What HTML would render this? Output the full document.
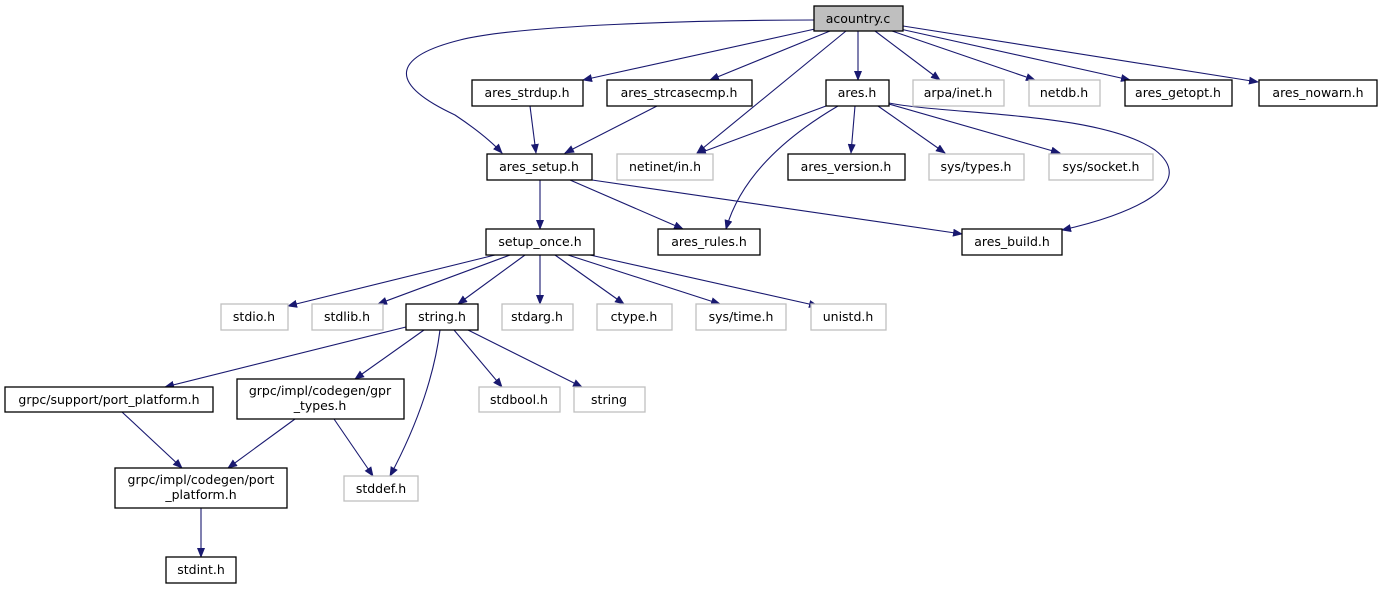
<!DOCTYPE html>
<html><head><meta charset="utf-8"><style>
html,body{margin:0;padding:0;background:#fff;}
svg text{font-family:"DejaVu Sans","Liberation Sans",sans-serif;font-size:12.5px;text-anchor:middle;fill:#000;}
.b{fill:#fff;stroke:#000;stroke-width:1.3}
.g{fill:#fff;stroke:#bfbfbf;stroke-width:1.3}
.e{fill:none;stroke:#191970;stroke-width:1.1;marker-end:url(#a)}
</style></head><body>
<svg width="1383" height="589" viewBox="0 0 1383 589" xmlns="http://www.w3.org/2000/svg">
<defs><marker id="a" markerWidth="10" markerHeight="8" refX="9" refY="4" orient="auto" markerUnits="userSpaceOnUse"><path d="M0,0 L10,4 L0,8 z" fill="#191970"/></marker></defs>
<!-- edges -->
<path class="e" d="M814,20 C700,20 520,25 460,40 C400,55 380,80 455,115 C470,125 490,140 502,153"/>
<path class="e" d="M815,29 L583,80"/>
<path class="e" d="M830,31 L710,80"/>
<path class="e" d="M846,31 L697,153"/>
<path class="e" d="M858,31 L858,80"/>
<path class="e" d="M875,31 L940,80"/>
<path class="e" d="M892,31 L1035,80"/>
<path class="e" d="M900,29 L1130,80"/>
<path class="e" d="M903,26 L1258,82"/>
<path class="e" d="M530,106 L536,153"/>
<path class="e" d="M657,106 L565,153"/>
<path class="e" d="M826,106 L697,154"/>
<path class="e" d="M838,106 C780,140 740,180 726,229"/>
<path class="e" d="M855,106 L851,153"/>
<path class="e" d="M878,106 L945,153"/>
<path class="e" d="M889,104 L1060,153"/>
<path class="e" d="M889,103 C950,115 1100,112 1155,150 C1200,185 1130,215 1062,230"/>
<path class="e" d="M540,180 L540,229"/>
<path class="e" d="M570,180 L683,229"/>
<path class="e" d="M592,180 L962,234"/>
<path class="e" d="M495,255 L288,306"/>
<path class="e" d="M510,255 L378,304"/>
<path class="e" d="M525,255 L458,304"/>
<path class="e" d="M540,255 L540,304"/>
<path class="e" d="M555,255 L624,304"/>
<path class="e" d="M568,255 L720,304"/>
<path class="e" d="M590,255 L818,306"/>
<path class="e" d="M406,327 L165,387"/>
<path class="e" d="M424,330 L355,379"/>
<path class="e" d="M440,330 C435,370 420,420 390,476"/>
<path class="e" d="M454,330 L502,387"/>
<path class="e" d="M468,330 L582,387"/>
<path class="e" d="M122,412 L182,468"/>
<path class="e" d="M295,419 L228,468"/>
<path class="e" d="M334,419 L373,476"/>
<path class="e" d="M201,508 L201,557"/>
<!-- nodes -->
<rect x="814" y="6" width="89" height="25" fill="#bfbfbf" stroke="#000" stroke-width="1.3"/><text x="858" y="23">acountry.c</text>
<rect class="b" x="472" y="80" width="111" height="26"/><text x="527" y="97">ares_strdup.h</text>
<rect class="b" x="607" y="80" width="145" height="26"/><text x="679" y="97">ares_strcasecmp.h</text>
<rect class="b" x="826" y="80" width="63" height="26"/><text x="857" y="97">ares.h</text>
<rect class="g" x="913" y="80" width="91" height="26"/><text x="958" y="97">arpa/inet.h</text>
<rect class="g" x="1029" y="80" width="71" height="26"/><text x="1064" y="97">netdb.h</text>
<rect class="b" x="1125" y="80" width="107" height="26"/><text x="1178" y="97">ares_getopt.h</text>
<rect class="b" x="1259" y="80" width="118" height="26"/><text x="1318" y="97">ares_nowarn.h</text>
<rect class="b" x="487" y="154" width="105" height="26"/><text x="539" y="171">ares_setup.h</text>
<rect class="g" x="617" y="154" width="96" height="26"/><text x="665" y="171">netinet/in.h</text>
<rect class="b" x="788" y="154" width="117" height="26"/><text x="846" y="171">ares_version.h</text>
<rect class="g" x="929" y="154" width="95" height="26"/><text x="976" y="171">sys/types.h</text>
<rect class="g" x="1049" y="154" width="104" height="26"/><text x="1101" y="171">sys/socket.h</text>
<rect class="b" x="486" y="229" width="108" height="26"/><text x="540" y="246">setup_once.h</text>
<rect class="b" x="658" y="229" width="102" height="26"/><text x="709" y="246">ares_rules.h</text>
<rect class="b" x="962" y="229" width="100" height="26"/><text x="1012" y="246">ares_build.h</text>
<rect class="g" x="221" y="304" width="67" height="26"/><text x="254" y="321">stdio.h</text>
<rect class="g" x="312" y="304" width="71" height="26"/><text x="347" y="321">stdlib.h</text>
<rect class="b" x="406" y="304" width="72" height="26"/><text x="442" y="321">string.h</text>
<rect class="g" x="502" y="304" width="71" height="26"/><text x="537" y="321">stdarg.h</text>
<rect class="g" x="597" y="304" width="75" height="26"/><text x="634" y="321">ctype.h</text>
<rect class="g" x="696" y="304" width="90" height="26"/><text x="741" y="321">sys/time.h</text>
<rect class="g" x="811" y="304" width="75" height="26"/><text x="848" y="321">unistd.h</text>
<rect class="b" x="5" y="387" width="208" height="25"/><text x="109" y="404">grpc/support/port_platform.h</text>
<rect class="b" x="237" y="379" width="167" height="40"/><text x="320" y="395">grpc/impl/codegen/gpr</text><text x="320" y="410">_types.h</text>
<rect class="g" x="479" y="387" width="81" height="25"/><text x="519" y="404">stdbool.h</text>
<rect class="g" x="574" y="387" width="71" height="25"/><text x="609" y="404">string</text>
<rect class="b" x="115" y="468" width="172" height="40"/><text x="201" y="484">grpc/impl/codegen/port</text><text x="201" y="499">_platform.h</text>
<rect class="g" x="344" y="476" width="74" height="25"/><text x="381" y="493">stddef.h</text>
<rect class="b" x="166" y="557" width="70" height="26"/><text x="201" y="574">stdint.h</text>
</svg>
</body></html>
